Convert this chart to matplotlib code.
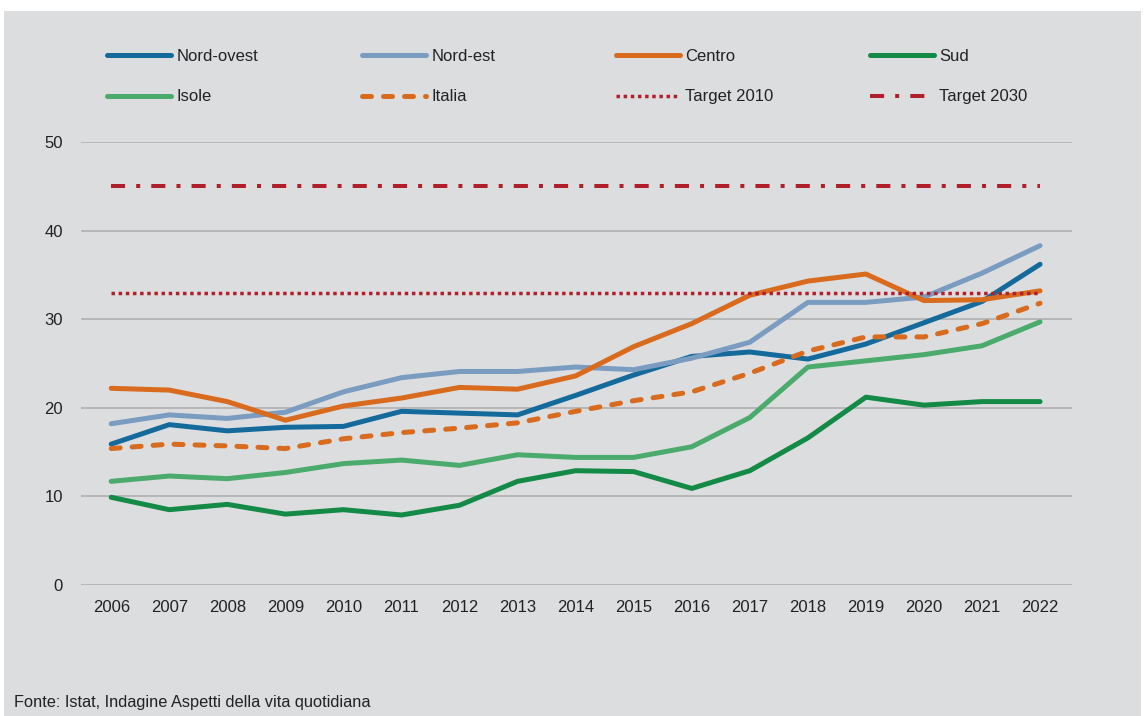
import matplotlib.pyplot as plt
from matplotlib.patches import Rectangle

years = list(range(2006, 2023))

nord_ovest = [15.9, 18.1, 17.4, 17.8, 17.9, 19.6, 19.4, 19.2, 21.4, 23.7, 25.8, 26.3, 25.5, 27.2, 29.6, 32.0, 36.2]
nord_est = [18.2, 19.2, 18.8, 19.5, 21.8, 23.4, 24.1, 24.1, 24.6, 24.3, 25.6, 27.4, 31.9, 31.9, 32.5, 35.2, 38.3]
centro = [22.2, 22.0, 20.7, 18.6, 20.2, 21.1, 22.3, 22.1, 23.6, 26.9, 29.5, 32.7, 34.3, 35.1, 32.1, 32.2, 33.2]
sud = [9.9, 8.5, 9.1, 8.0, 8.5, 7.9, 9.0, 11.7, 12.9, 12.8, 10.9, 12.9, 16.6, 21.2, 20.3, 20.7, 20.7]
isole = [11.7, 12.3, 12.0, 12.7, 13.7, 14.1, 13.5, 14.7, 14.4, 14.4, 15.6, 18.9, 24.6, 25.3, 26.0, 27.0, 29.7]
italia = [15.4, 15.9, 15.7, 15.4, 16.5, 17.2, 17.7, 18.3, 19.6, 20.8, 21.8, 23.9, 26.4, 28.0, 28.0, 29.5, 31.8]
target_2010 = 33
target_2030 = 45

plt.rcParams['font.family'] = ['Liberation Sans', 'DejaVu Sans']

BG = '#dcdddf'
W, H = 1147, 716
fig = plt.figure(figsize=(W / 100, H / 100), dpi=100)
fig.patch.set_facecolor('white')
fig.patches.append(Rectangle((4 / W, 0), 1137 / W, 705 / H, transform=fig.transFigure,
                             facecolor=BG, edgecolor='none', zorder=-10))

ax = fig.add_axes([81 / W, 1 - 585 / H, 991 / W, 443 / H])
ax.set_facecolor(BG)

lw = 3.6
h = {}
h['Nord-ovest'], = ax.plot(years, nord_ovest, color='#146a9b', lw=lw, solid_capstyle='round')
h['Nord-est'], = ax.plot(years, nord_est, color='#7a9cc0', lw=lw, solid_capstyle='round')
h['Centro'], = ax.plot(years, centro, color='#d96b1f', lw=lw, solid_capstyle='round')
h['Sud'], = ax.plot(years, sud, color='#138a45', lw=lw, solid_capstyle='round')
h['Isole'], = ax.plot(years, isole, color='#4aab6d', lw=lw, solid_capstyle='round')
h['Italia'], = ax.plot(years, italia, color='#d96b1f', lw=lw, ls=(0, (1.8, 2.4)), dash_capstyle='round')
h['Target 2010'], = ax.plot([years[0], years[-1]], [target_2010] * 2, color='#b01f2a', lw=2.5,
                            ls=(0, (1, 1.06)))
h['Target 2030'], = ax.plot([years[0], years[-1]], [target_2030] * 2, color='#b01f2a', lw=2.9,
                            ls=(0, (3.5, 2.75, 1, 2.75)))

ax.set_xlim(2005.48, 2022.55)
ax.set_ylim(0, 50)
ax.set_xticks(years)
ax.set_yticks(range(0, 51, 10))
ax.tick_params(length=0, labelsize=12, colors='#222222')
ax.tick_params(axis='x', pad=11)
ax.tick_params(axis='y', pad=13)
ax.grid(axis='y', color='#b4b4b4', lw=1.3)
ax.set_axisbelow(True)
for s in ax.spines.values():
    s.set_visible(False)

# one legend per column, two rows each
columns = [['Nord-ovest', 'Isole'], ['Nord-est', 'Italia'], ['Centro', 'Target 2010'], ['Sud', 'Target 2030']]
col_x = [107, 362, 616, 870]
for names, x in zip(columns, col_x):
    leg = fig.legend([h[k] for k in names], names, loc='upper left',
                     bbox_to_anchor=(x / W, 1 - 49 / H), frameon=False,
                     borderpad=0, borderaxespad=0, handlelength=3.85, handletextpad=0.3,
                     labelspacing=1.52, fontsize=12)
    for t in leg.get_texts():
        t.set_color('#222222')

fig.text(14 / W, 1 - 703 / H, 'Fonte: Istat, Indagine Aspetti della vita quotidiana',
         fontsize=11.8, color='#222222', va='center')

fig.savefig('out.png', dpi=100, facecolor=fig.get_facecolor())
